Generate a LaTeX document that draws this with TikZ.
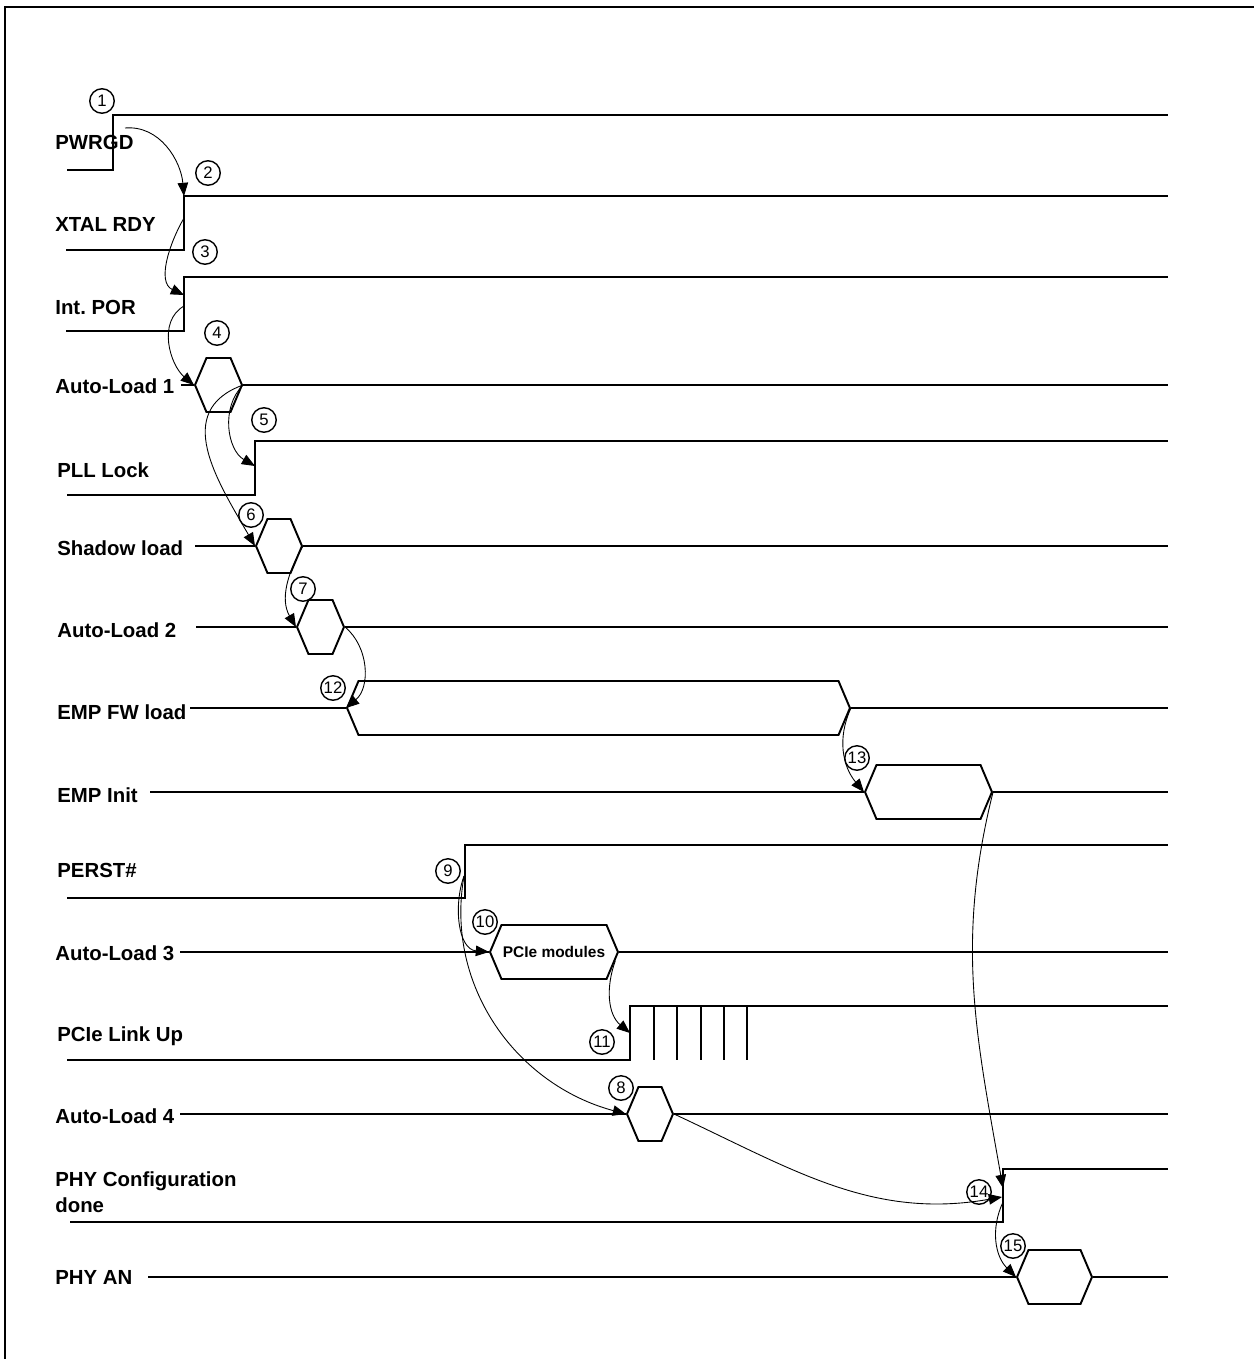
\documentclass[tikz,border=0pt]{standalone}
\usepackage{fontspec}
\setmainfont{Liberation Sans}
\usetikzlibrary{arrows.meta,shapes.symbols}

\begin{document}
\frenchspacing
\begin{tikzpicture}[x=0.02cm, y=-0.02cm,
  sig/.style={anchor=west, inner sep=0pt, align=left,
              font=\bfseries\fontsize{11.6}{15}\selectfont},
  wave/.style={line width=1.1pt},
  hexbox/.style={draw, line width=1.1pt, signal, signal to=west and east,
                 signal pointer angle=134, minimum height=1.08cm, inner sep=0pt,
                 font=\bfseries\fontsize{8.8}{10}\selectfont},
  num/.style={draw, circle, line width=0.8pt, minimum size=0.49cm, inner sep=0pt,
              font=\fontsize{9.5}{10}\selectfont},
  arr/.style={-{Triangle[length=7.5pt, width=6pt]}, line width=0.5pt}
]
  \useasboundingbox (0,0) rectangle (1254,1359);
  \draw[line width=1.4pt] (5,1359) |- (1254,7);

  \node[sig] (pwrgd)   at (55,142)  {PWRGD};
  \node[sig] (xtal)    at (55,224)  {XTAL RDY};
  \node[sig] (por)     at (55,307)  {Int. POR};
  \node[sig] (load1)   at (55,386)  {Auto-Load 1};
  \node[sig] (pll)     at (57,470)  {PLL Lock};
  \node[sig] (shadow)  at (57,548)  {Shadow load};
  \node[sig] (load2)   at (57,630)  {Auto-Load 2};
  \node[sig] (empfw)   at (57,712)  {EMP FW load};
  \node[sig] (empinit) at (57,795)  {EMP Init};
  \node[sig] (perst)   at (57,870)  {PERST\#};
  \node[sig] (load3)   at (55,953)  {Auto-Load 3};
  \node[sig] (link)    at (57,1036) {PCIe Link Up};
  \node[sig] (load4)   at (55,1116) {Auto-Load 4};
  \node[sig] (phycfg)  at (55,1192) {PHY Configuration\\done};
  \node[sig] (phyan)   at (55,1277) {PHY AN};

  \coordinate (pwrgd up) at (113,115);
  \coordinate (xtal up)  at (184,196);
  \coordinate (por up)   at (184,277);
  \coordinate (pll up)   at (255,441);
  \coordinate (perst up) at (465,845);
  \coordinate (link up)  at (630,1006);
  \coordinate (phy up)   at (1003,1169);

  \draw[wave] (67,170) -| (pwrgd up) -- (1168,115);
  \draw[wave] (66,250) -| (xtal up) -- (1168,196);
  \draw[wave] (66,331) -| (por up) -- (1168,277);
  \draw[wave] (67,495) -| (pll up) -- (1168,441);
  \draw[wave] (67,898) -| (perst up) -- (1168,845);
  \draw[wave] (67,1060) -| (link up) -- (1168,1006);
  \draw[wave] (70,1222) -| (phy up) -- (1168,1169);
  \foreach \x in {654,677,701,724,747}
    \draw[wave] (\x,1006) -- (\x,1060);

  \node[hexbox, minimum width=0.94cm]  (al1)   at (218.5,385) {};
  \node[hexbox, minimum width=0.92cm]  (sh)    at (279,546)   {};
  \node[hexbox, minimum width=0.94cm]  (al2)   at (320.5,627) {};
  \node[hexbox, minimum width=10.06cm] (fw)    at (598.5,708) {};
  \node[hexbox, minimum width=2.54cm]  (init)  at (928.5,792) {};
  \node[hexbox, minimum width=2.56cm]  (al3)   at (554,952)   {PCIe modules};
  \node[hexbox, minimum width=0.92cm]  (al4)   at (650,1114)  {};
  \node[hexbox, minimum width=1.5cm]   (an)    at (1054.5,1277) {};

  \draw[wave] (181,385) -- (al1.west)  (al1.east) -- (1168,385);
  \draw[wave] (195,546) -- (sh.west)   (sh.east) -- (1168,546);
  \draw[wave] (196,627) -- (al2.west)  (al2.east) -- (1168,627);
  \draw[wave] (190,708) -- (fw.west)   (fw.east) -- (1168,708);
  \draw[wave] (150,792) -- (init.west) (init.east) -- (1168,792);
  \draw[wave] (180,952) -- (al3.west)  (al3.east) -- (1168,952);
  \draw[wave] (180,1114) -- (al4.west) (al4.east) -- (1168,1114);
  \draw[wave] (148,1277) -- (an.west)  (an.east) -- (1168,1277);

  \coordinate (pwrgd src) at (125,128);
  \coordinate (xtal src)  at (184,218);
  \coordinate (por in)    at (184,295);
  \coordinate (por src)   at (184,306);
  \coordinate (pll in)    at (255,466);
  \coordinate (perst src) at (464,876);
  \coordinate (link in)   at (630,1033);
  \coordinate (phy in)    at (1003,1188);
  \coordinate (phy in2)   at (1002,1197);
  \coordinate (phy src)   at (1003,1202);

  \draw[arr] (pwrgd src) to[out=5, in=95] (xtal up);
  \draw[arr] (xtal src) to[out=-120, in=155] (por in);
  \draw[arr] (por src) to[out=-150, in=140] (al1.west);
  \draw[arr] (al1.east) to[out=-135, in=150] (pll in);
  \draw[arr] (al1.east) to[out=-160, in=120, looseness=1.2] (sh.west);
  \draw[arr] (sh.east) to[out=-120, in=120] (al2.west);
  \draw[arr] (al2.east) to[out=-40, in=40] (fw.west);
  \draw[arr] (fw.east) to[out=-115, in=130] (init.west);
  \draw[arr] (init.east) to[out=-104, in=100] (phy in);
  \draw[arr] (perst src) to[out=-110, in=175] (al3.west);
  \draw[arr] (perst src) to[out=-100, in=165] (al4.west);
  \draw[arr] (al3.-8) to[out=-110, in=140] (link in);
  \draw[arr] (al4.east) to[out=-25, in=-170] (phy in2);
  \draw[arr] (phy src) to[out=-115, in=135] (an.west);

  \node[num] (n1)  at (102,101)  {1};
  \node[num] (n2)  at (208,173)  {2};
  \node[num] (n3)  at (205,252)  {3};
  \node[num] (n4)  at (217,333)  {4};
  \node[num] (n5)  at (264,420)  {5};
  \node[num] (n6)  at (251,515)  {6};
  \node[num] (n7)  at (303,589)  {7};
  \node[num] (n8)  at (621,1088) {8};
  \node[num] (n9)  at (448,871)  {9};
  \node[num] (n10) at (485,922)  {10};
  \node[num] (n11) at (602,1042) {11};
  \node[num] (n12) at (333,688)  {12};
  \node[num] (n13) at (857,758)  {13};
  \node[num] (n14) at (979,1192) {14};
  \node[num] (n15) at (1013,1246) {15};
\end{tikzpicture}
\end{document}
